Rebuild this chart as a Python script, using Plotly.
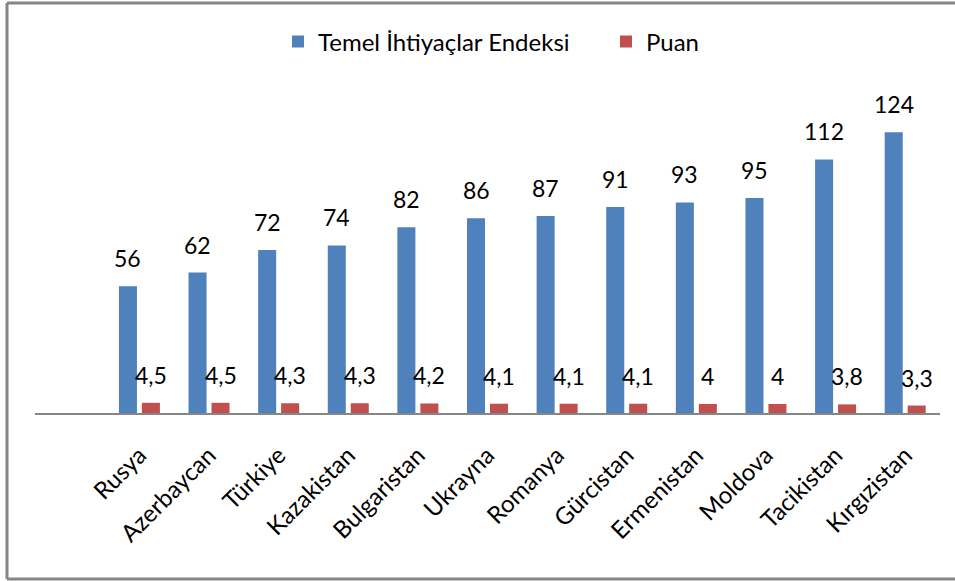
import plotly.graph_objects as go

countries = ["Rusya", "Azerbaycan", "Türkiye", "Kazakistan", "Bulgaristan", "Ukrayna",
             "Romanya", "Gürcistan", "Ermenistan", "Moldova", "Tacikistan", "Kırgızistan"]
endeks = [56, 62, 72, 74, 82, 86, 87, 91, 93, 95, 112, 124]
puan = [4.5, 4.5, 4.3, 4.3, 4.2, 4.1, 4.1, 4.1, 4.0, 4.0, 3.8, 3.3]

series_names = ["Temel İhtiyaçlar Endeksi", "Puan"]
colors = ["#4F81BD", "#C0504D"]

FONT = "Lato"
W, H = 955, 581
L, R, T, B = 35, 15, 96, 168

xpos = list(range(1, len(countries) + 1))
bw = 0.259
centers = [-0.165, 0.165]


def fmt(v):
    return f"{v:g}".replace(".", ",")


fig = go.Figure()
for name, vals, col, c in zip(series_names, [endeks, puan], colors, centers):
    fig.add_trace(go.Bar(
        x=xpos, y=vals, name=name, marker=dict(color=col, line=dict(width=0)),
        width=bw, offset=c - bw / 2,
    ))

annotations = []
for vals, c in zip([endeks, puan], centers):
    for xi, v in zip(xpos, vals):
        annotations.append(dict(
            x=xi + c, y=v, xref="x", yref="y", text=fmt(v), showarrow=False,
            yanchor="bottom", xanchor="center", yshift=12,
            font=dict(family=FONT, size=23, color="black"),
        ))

pw = W - L - R
ph = H - T - B


def px_x(p):
    return (p - L) / pw


def px_y(p):
    return (H - B - p) / ph


border = dict(color="#868686", width=3)
shapes = [
    dict(type="line", xref="paper", yref="paper", x0=px_x(7), x1=px_x(990),
         y0=px_y(3), y1=px_y(3), line=border, layer="below"),
    dict(type="line", xref="paper", yref="paper", x0=px_x(7), x1=px_x(990),
         y0=px_y(579), y1=px_y(579), line=border, layer="below"),
    dict(type="line", xref="paper", yref="paper", x0=px_x(7), x1=px_x(7),
         y0=px_y(3), y1=px_y(579), line=border, layer="below"),
]

fig.update_layout(
    width=W, height=H,
    margin=dict(l=L, r=R, t=T, b=B, autoexpand=False),
    paper_bgcolor="white", plot_bgcolor="white",
    barmode="overlay",
    showlegend=True,
    legend=dict(orientation="h", x=px_x(278), xanchor="left", y=px_y(42), yanchor="middle",
                font=dict(family=FONT, size=24, color="black"), entrywidth=283, entrywidthmode="pixels"),
    font=dict(family=FONT, size=23, color="black"),
    annotations=annotations,
    shapes=shapes,
)
fig.update_xaxes(range=[-0.5, 12.5], tickmode="array", tickvals=xpos, ticktext=countries,
                 tickangle=-45, showgrid=False, zeroline=False, showline=True,
                 linecolor="#868686", linewidth=1.5, ticks="", automargin=False,
                 tickfont=dict(family=FONT, size=24, color="black"), ticklabelstandoff=17)
fig.update_yaxes(range=[0, 140], visible=False, showgrid=False, zeroline=False)

fig.write_html("out.html", config={"displayModeBar": False},
               post_script="document.documentElement.style.overflow='hidden';"
                           "document.body.style.margin='0';document.body.style.overflow='hidden';"
                           "window.dispatchEvent(new Event('resize'));")
